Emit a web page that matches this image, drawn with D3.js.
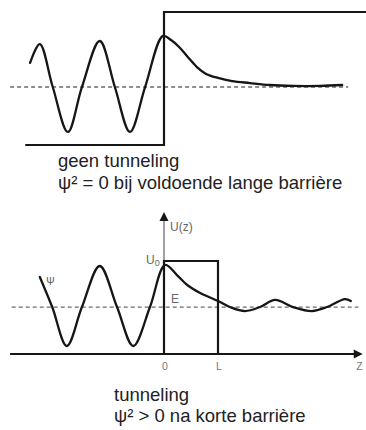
<!DOCTYPE html>
<html>
<head>
<meta charset="utf-8">
<script src="https://cdn.jsdelivr.net/npm/d3@7"></script>
<style>
  body { margin: 0; background: #fff; }
  svg { display: block; }
</style>
</head>
<body>
<script>
// ---- Upper panel: long barrier (potential step at z = 0), values in units of U0 ----
const stepZ   = [-2.48, -2.30, -2.06, -1.78, -1.52, -1.19, -0.91, -0.63, -0.35, -0.02, 0.13, 0.28, 0.44, 0.61, 0.78, 1.00, 1.26, 1.59, 1.96, 2.39, 2.89, 3.30];
const stepPsi = [0.617, 0.759, 0.436, 0.098, 0.436, 0.782, 0.436, 0.098, 0.436, 0.820, 0.789, 0.737, 0.662, 0.586, 0.534, 0.504, 0.481, 0.466, 0.451, 0.444, 0.444, 0.451];
const stepPotZ = [-2.57, 0, 0, 3.80];
const stepPotU = [0, 0, 1, 1];
const stepE = 0.436;
const stepEZ = [-2.85, 3.41];

// ---- Lower panel: short barrier of width L, values in units of U0 ----
const L = 1;
const barZ   = [-2.30, -2.07, -1.80, -1.52, -1.19, -0.87, -0.57, -0.26, 0.02, 0.24, 0.43, 0.67, 1.00, 1.22, 1.50, 1.78, 2.06, 2.39, 2.74, 3.02, 3.35, 3.46];
const barPsi = [0.828, 0.505, 0.086, 0.505, 0.946, 0.505, 0.086, 0.505, 0.957, 0.849, 0.742, 0.656, 0.570, 0.505, 0.462, 0.505, 0.581, 0.505, 0.462, 0.505, 0.591, 0.570];
const barPotZ = [0, 0, L, L];
const barPotU = [0, 1, 1, 0];
const barE = 0.505;
const barEZ = [-2.82, 3.60];
const axisZ = [-2.85, 3.68];
const axisUTop = 1.527;
const tickLabels = ["0", "L", "Z"];
const tickZ = [0, L, 3.60];

const W = 366, H = 430;
const svg = d3.select("body").append("svg").attr("width", W).attr("height", H);

const x = d3.scaleLinear().domain([0, 1]).range([164, 218]);
const yTop = d3.scaleLinear().domain([0, 1]).range([145, 12]);
const yBot = d3.scaleLinear().domain([0, 1]).range([354, 261]);

const ink = "#161616";
const grey = "#6a6a6a";
const font = "'Liberation Sans', Arial, sans-serif";

const wave = (ys) => d3.line().x(d => x(d[0])).y(d => ys(d[1])).curve(d3.curveCatmullRom.alpha(0.5));
const poly = (ys) => d3.line().x(d => x(d[0])).y(d => ys(d[1]));

// ===== Upper panel =====
const upper = svg.append("g");
upper.append("path")
  .attr("d", poly(yTop)(stepEZ.map(z => [z, stepE])))
  .attr("stroke", grey).attr("stroke-width", 1.3).attr("stroke-dasharray", "4,3").attr("fill", "none");
upper.append("path")
  .attr("d", poly(yTop)(d3.zip(stepPotZ, stepPotU)))
  .attr("stroke", ink).attr("stroke-width", 2.2).attr("fill", "none");
upper.append("path")
  .attr("d", wave(yTop)(d3.zip(stepZ, stepPsi)))
  .attr("stroke", ink).attr("stroke-width", 2.3).attr("fill", "none")
  .attr("stroke-linecap", "round");

const upperText = svg.append("text").attr("font-family", font).attr("font-size", 18.5).attr("fill", "#222");
upperText.append("tspan").attr("x", 58).attr("y", 167).text("geen tunneling");
upperText.append("tspan").attr("x", 58).attr("y", 189).text("ψ² = 0 bij voldoende lange barrière");

// ===== Lower panel =====
const lower = svg.append("g");
// E level
lower.append("path")
  .attr("d", poly(yBot)(barEZ.map(z => [z, barE])))
  .attr("stroke", grey).attr("stroke-width", 1.3).attr("stroke-dasharray", "4,3").attr("fill", "none");
// U(z) axis (vertical)
lower.append("path")
  .attr("d", poly(yBot)([[0, 0], [0, axisUTop - 0.07]]))
  .attr("stroke", "#8a8a8a").attr("stroke-width", 1.6).attr("fill", "none");
{
  const xt = x(0), yt = yBot(axisUTop);
  lower.append("path")
    .attr("d", `M${xt},${yt} L${xt - 4.5},${yt + 9} L${xt + 4.5},${yt + 9} Z`)
    .attr("fill", ink);
}
// z axis (horizontal)
lower.append("path")
  .attr("d", poly(yBot)([[axisZ[0], 0], [axisZ[1] - 0.12, 0]]))
  .attr("stroke", ink).attr("stroke-width", 2.2).attr("fill", "none");
{
  const xt = x(axisZ[1]), yt = yBot(0);
  lower.append("path")
    .attr("d", `M${xt},${yt} L${xt - 9},${yt - 4.5} L${xt - 9},${yt + 4.5} Z`)
    .attr("fill", ink);
}
// barrier
lower.append("path")
  .attr("d", poly(yBot)(d3.zip(barPotZ, barPotU)))
  .attr("stroke", ink).attr("stroke-width", 2.2).attr("fill", "none");
// wave function
lower.append("path")
  .attr("d", wave(yBot)(d3.zip(barZ, barPsi)))
  .attr("stroke", ink).attr("stroke-width", 2.3).attr("fill", "none")
  .attr("stroke-linecap", "round");

// tick labels
lower.selectAll("text.tick").data(d3.zip(tickZ, tickLabels)).join("text")
  .attr("class", "tick")
  .attr("x", d => x(d[0]) + 1).attr("y", 370)
  .attr("text-anchor", "middle")
  .attr("font-family", font).attr("font-size", 10.5).attr("fill", "#777")
  .text(d => d[1]);

// axis and level labels
lower.append("text").attr("x", x(0) + 6).attr("y", yBot(axisUTop) + 19)
  .attr("font-family", font).attr("font-size", 12).attr("fill", "#666").text("U(z)");
const u0 = lower.append("text").attr("x", x(0) - 18).attr("y", yBot(1) + 3)
  .attr("font-family", font).attr("font-size", 12).attr("fill", "#666");
u0.append("tspan").text("U");
u0.append("tspan").attr("font-size", 9).attr("dy", 2).text("0");
lower.append("text").attr("x", x(0) + 7).attr("y", yBot(barE) - 4)
  .attr("font-family", font).attr("font-size", 12).attr("fill", "#666").text("E");
lower.append("text").attr("x", x(-2.18)).attr("y", yBot(0.74))
  .attr("font-family", font).attr("font-size", 10).attr("fill", "#555").text("Ψ");

const lowerText = svg.append("text").attr("font-family", font).attr("font-size", 18.5).attr("fill", "#222");
lowerText.append("tspan").attr("x", 114).attr("y", 401).text("tunneling");
lowerText.append("tspan").attr("x", 114).attr("y", 422).text("ψ² > 0 na korte barrière");
</script>
</body>
</html>
